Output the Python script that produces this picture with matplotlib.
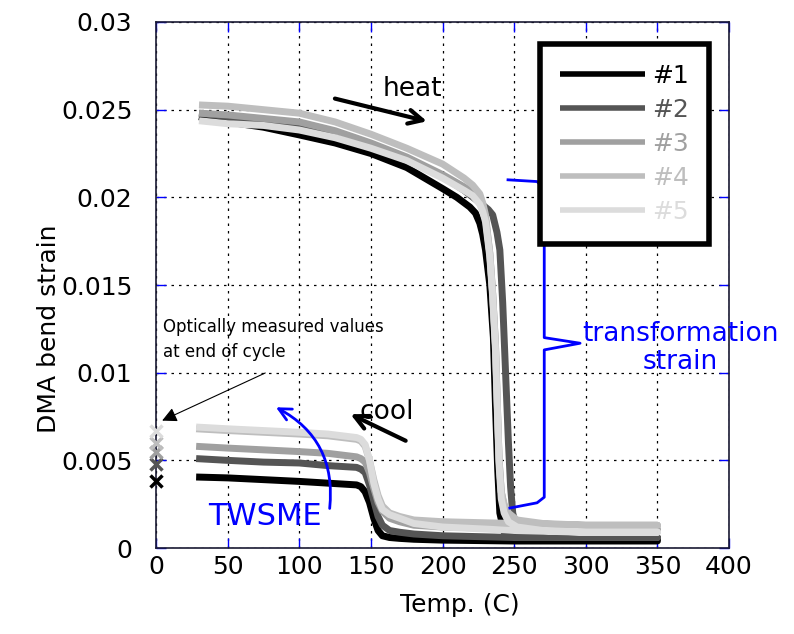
import matplotlib
matplotlib.use("Agg")
import matplotlib.pyplot as plt

plt.rcParams['font.family'] = ['DejaVu Sans']

labels = ['#1', '#2', '#3', '#4', '#5']
colors = ['#000000', '#555555', '#a0a0a0', '#bebebe', '#dcdcdc']

# heating branch (temperature, strain) per sample
T_heat = [
    [30, 50, 75, 100, 125, 150, 175, 200, 210, 219, 223, 226, 228, 230, 233, 235.5, 237, 238.5, 240, 243, 250, 300, 350],
    [30, 50, 75, 100, 125, 150, 175, 200, 215, 226, 232, 235, 238, 240, 242, 244, 246, 247.5, 249, 252, 260, 300, 350],
    [30, 50, 75, 100, 125, 150, 175, 200, 215, 221, 226, 228, 230, 233, 235, 237, 238.5, 239.5, 241, 243, 246, 252, 270, 300, 350],
    [30, 50, 75, 100, 125, 150, 175, 200, 215, 221, 226, 228, 230, 233, 235, 237, 238.5, 239.5, 241, 243, 246, 252, 270, 300, 350],
    [30, 50, 75, 100, 125, 150, 175, 200, 215, 221, 226, 228, 230, 233, 235, 237, 238.5, 239.5, 241, 243, 246, 252, 270, 300, 350],
]
heat = [
    [0.0246, 0.0243, 0.0240, 0.02356, 0.0231, 0.0225, 0.0217, 0.0205, 0.0200, 0.01945, 0.0191, 0.01853, 0.0179, 0.0170, 0.0150, 0.0120, 0.0080, 0.0045, 0.0020, 0.0009, 0.0006, 0.0005, 0.0005],
    [0.0248, 0.0246, 0.0243, 0.0240, 0.0235, 0.0229, 0.0222, 0.0212, 0.0204, 0.0197, 0.0193, 0.0190, 0.0180, 0.0170, 0.0140, 0.0100, 0.0060, 0.0035, 0.0020, 0.0010, 0.0007, 0.0006, 0.0006],
    [0.0248, 0.0247, 0.0245, 0.0243, 0.0238, 0.0231, 0.0223, 0.0213, 0.0206, 0.0203, 0.0198, 0.0194, 0.0188, 0.0168, 0.0145, 0.0115, 0.0075, 0.0050, 0.0032, 0.0024, 0.0018, 0.0014, 0.0012, 0.0011, 0.0011],
    [0.02527, 0.0252, 0.0250, 0.0248, 0.0243, 0.0236, 0.0228, 0.0219, 0.0211, 0.0207, 0.0202, 0.0197, 0.0190, 0.0168, 0.0145, 0.0115, 0.0075, 0.0050, 0.0032, 0.0025, 0.0020, 0.0016, 0.0014, 0.0013, 0.0013],
    [0.02437, 0.0242, 0.0241, 0.02384, 0.0234, 0.0228, 0.0221, 0.0211, 0.0204, 0.0201, 0.0196, 0.0192, 0.0186, 0.0166, 0.0143, 0.0112, 0.0072, 0.0047, 0.0028, 0.0020, 0.0015, 0.0012, 0.0010, 0.0009, 0.0009],
]

# cooling branch
T_cool = [350, 300, 250, 200, 180, 170, 163, 158, 155, 152, 149, 146, 143, 140, 120, 100, 75, 50, 28]
cool = [
    [0.0004, 0.0004, 0.0004, 0.00045, 0.0005, 0.00055, 0.0006, 0.0007, 0.0010, 0.0017, 0.0026, 0.0032, 0.0035, 0.0036, 0.0037, 0.0038, 0.0039, 0.0040, 0.00405],
    [0.0006, 0.0006, 0.0006, 0.0007, 0.0008, 0.0009, 0.0010, 0.0013, 0.0018, 0.0027, 0.0036, 0.0043, 0.0045, 0.0046, 0.0047, 0.00485, 0.0049, 0.0050, 0.0051],
    [0.0010, 0.0010, 0.0011, 0.0012, 0.0013, 0.0015, 0.0017, 0.0021, 0.0026, 0.0034, 0.0043, 0.0049, 0.0051, 0.0052, 0.0054, 0.0055, 0.0056, 0.0057, 0.0058],
    [0.0013, 0.0013, 0.0014, 0.0015, 0.0016, 0.0018, 0.0020, 0.0024, 0.0030, 0.0039, 0.0050, 0.0058, 0.0061, 0.0062, 0.0064, 0.0065, 0.0066, 0.0067, 0.0068],
    [0.0009, 0.0009, 0.0010, 0.0012, 0.0014, 0.0017, 0.0019, 0.0022, 0.0028, 0.0037, 0.0050, 0.0059, 0.0062, 0.0063, 0.0065, 0.0066, 0.0067, 0.0068, 0.0069],
]

# optically measured values at end of cycle
optical = [0.0038, 0.0048, 0.0055, 0.0060, 0.0067]

xticks = [0, 50, 100, 150, 200, 250, 300, 350, 400]
yticks = [0, 0.005, 0.01, 0.015, 0.02, 0.025, 0.03]
yticklabels = ['0', '0.005', '0.01', '0.015', '0.02', '0.025', '0.03']

fig = plt.figure(figsize=(7.94, 6.34), dpi=100)
ax = fig.add_axes([0.1965, 0.1356, 0.7217, 0.8297])

for lab, c, th, h, cl in zip(labels, colors, T_heat, heat, cool):
    T = list(th) + list(T_cool)
    y = list(h) + list(cl)
    ax.plot(T, y, color=c, lw=5, solid_capstyle='butt', solid_joinstyle='round', label=lab)

for val, c in zip(optical, colors):
    ax.plot([0], [val], marker='x', color=c, ms=8, mew=2.5, ls='none', clip_on=False, zorder=5)

ax.set_xlim(0, 400)
ax.set_ylim(0, 0.03)
ax.set_xticks(xticks)
ax.set_yticks(yticks)
ax.set_yticklabels(yticklabels)
ax.tick_params(direction='in', color='blue', length=7, width=1, top=True, right=True,
               labelsize=18)
ax.tick_params(axis='x', pad=5)
ax.tick_params(axis='y', pad=17)
ax.grid(True, color='black', ls=(0, (2, 4)), lw=0.9)
for s in ax.spines.values():
    s.set_color('#1a1a33')
    s.set_linewidth(1.2)

ax.set_xlabel('Temp. (C)', fontsize=18)
ax.set_ylabel('DMA bend strain', fontsize=18)
ax.xaxis.set_label_coords(0.53, -0.085)
ax.yaxis.set_label_coords(-0.165, 0.416)

leg = ax.legend(loc='upper left', bbox_to_anchor=(0.67, 0.958), fontsize=18, frameon=True,
                fancybox=False, edgecolor='black', framealpha=1, handlelength=3.4,
                handletextpad=0.3, labelspacing=0.40, borderpad=0.8,
                labelcolor='linecolor', borderaxespad=0)
leg.get_frame().set_linewidth(4)
for hl in leg.get_lines():
    hl.set_linewidth(4)

# annotations
ax.annotate('', xy=(191, 0.0243), xytext=(123, 0.02567),
            arrowprops=dict(arrowstyle='->', color='black', lw=3, mutation_scale=25))
ax.text(179, 0.0262, 'heat', fontsize=19, ha='center', va='center')

ax.annotate('', xy=(134, 0.0077), xytext=(176, 0.00605),
            arrowprops=dict(arrowstyle='->', color='black', lw=3, mutation_scale=25))
ax.text(161, 0.00775, 'cool', fontsize=19, ha='center', va='center')

ax.text(5, 0.0119, 'Optically measured values\nat end of cycle', fontsize=12, ha='left',
        va='center', linespacing=1.45)
ax.annotate('', xy=(2.5, 0.0072), xytext=(78, 0.01005),
            arrowprops=dict(arrowstyle='-|>', color='black', lw=0.8, mutation_scale=22))

ax.text(76, 0.0018, 'TWSME', fontsize=22, color='blue', ha='center', va='center')
ax.annotate('', xy=(82, 0.0081), xytext=(121, 0.0021),
            arrowprops=dict(arrowstyle='->', color='blue', lw=2, mutation_scale=22,
                            connectionstyle='arc3,rad=0.35'))

# brace
bx = [245.7, 266, 271, 271, 296, 271, 271, 266, 247]
by = [0.0210, 0.0209, 0.0205, 0.0120, 0.01168, 0.0113, 0.0029, 0.00258, 0.00228]
ax.plot(bx, by, color='blue', lw=2, clip_on=False)
ax.text(366, 0.0114, 'transformation\nstrain', fontsize=19, color='blue', ha='center',
        va='center', linespacing=1.1)

fig.savefig('out.png', dpi=100)
